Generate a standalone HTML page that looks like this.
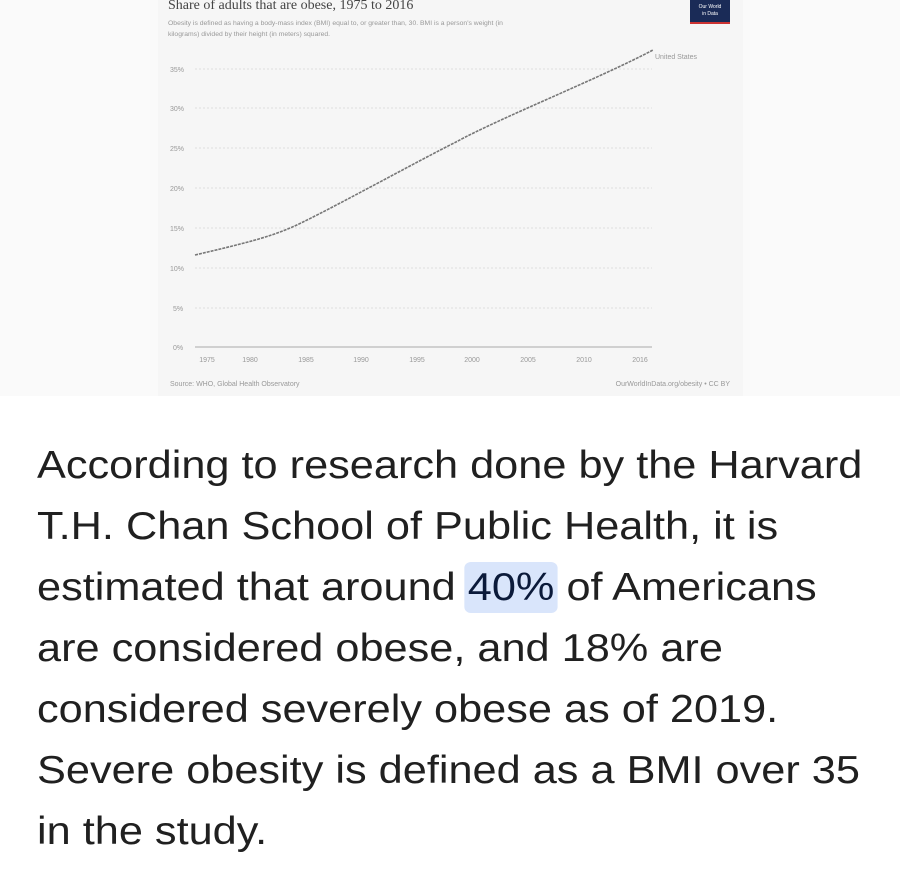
<!DOCTYPE html>
<html><head><meta charset="utf-8"><style>
body{margin:0;width:900px;height:886px;background:#fff;overflow:hidden;font-family:"Liberation Sans",sans-serif}
#top{position:absolute;left:0;top:0;width:900px;height:396px;background:#fafafa}
#panel{position:absolute;left:158px;top:0;width:585px;height:396px;background:#f6f6f6}
.t{position:absolute;left:37px;font-size:39px;color:#202020;white-space:nowrap;line-height:1;transform:scaleX(1.11);transform-origin:0 0}
.hl{background:#d9e5fb;color:#0b1a3a;border-radius:6px;padding:4px 3px;margin:0 -3px}
</style></head><body>
<div id="top"></div><div id="panel"></div>
<svg style="position:absolute;left:0;top:0" width="900" height="396">
<text x="168" y="9" font-family="Liberation Serif" font-size="14" fill="#444">Share of adults that are obese, 1975 to 2016</text>
<text x="168" y="25" font-family="Liberation Sans" font-size="6.8" fill="#999">Obesity is defined as having a body-mass index (BMI) equal to, or greater than, 30. BMI is a person's weight (in</text>
<text x="168" y="36" font-family="Liberation Sans" font-size="6.8" fill="#999">kilograms) divided by their height (in meters) squared.</text>
<rect x="690" y="0" width="40" height="22" fill="#1a2b57"/><rect x="690" y="22" width="40" height="2" fill="#c33"/>
<text x="710" y="8" font-size="5" fill="#fff" text-anchor="middle">Our World</text><text x="710" y="15" font-size="5" fill="#fff" text-anchor="middle">in Data</text>
<g stroke="#ddd" stroke-dasharray="2,2" stroke-width="1">
<line x1="195" x2="652" y1="69" y2="69"/><line x1="195" x2="652" y1="108" y2="108"/><line x1="195" x2="652" y1="148" y2="148"/><line x1="195" x2="652" y1="188" y2="188"/><line x1="195" x2="652" y1="228" y2="228"/><line x1="195" x2="652" y1="268" y2="268"/><line x1="195" x2="652" y1="308" y2="308"/></g>
<line x1="195" x2="652" y1="347" y2="347" stroke="#aaa"/>
<g font-size="7" fill="#999" font-family="Liberation Sans">
<text x="170" y="72">35%</text><text x="170" y="111">30%</text><text x="170" y="151">25%</text><text x="170" y="191">20%</text><text x="170" y="231">15%</text><text x="170" y="271">10%</text><text x="173" y="311">5%</text><text x="173" y="350">0%</text>
<g text-anchor="middle"><text x="207" y="362">1975</text><text x="250" y="362">1980</text><text x="306" y="362">1985</text><text x="361" y="362">1990</text><text x="417" y="362">1995</text><text x="472" y="362">2000</text><text x="528" y="362">2005</text><text x="584" y="362">2010</text><text x="640" y="362">2016</text></g>
<text x="170" y="386">Source: WHO, Global Health Observatory</text>
<text x="730" y="386" text-anchor="end">OurWorldInData.org/obesity • CC BY</text>
<text x="655" y="59">United States</text></g>
<path d="M195,255 C250,242 275,236 303,222 C340,204 420,160 456,142 C500,118 600,78 653,50" fill="none" stroke="#777" stroke-width="1.6" stroke-dasharray="3,1"/>
</svg>
<div class="t" style="top:446px">According to research done by the Harvard</div>
<div class="t" style="top:507px">T.H. Chan School of Public Health, it is</div>
<div class="t" style="top:568px">estimated that around <span class="hl">40%</span> of Americans</div>
<div class="t" style="top:629px">are considered obese, and 18% are</div>
<div class="t" style="top:690px">considered severely obese as of 2019.</div>
<div class="t" style="top:751px">Severe obesity is defined as a BMI over 35</div>
<div class="t" style="top:812px">in the study.</div>
</body></html>
